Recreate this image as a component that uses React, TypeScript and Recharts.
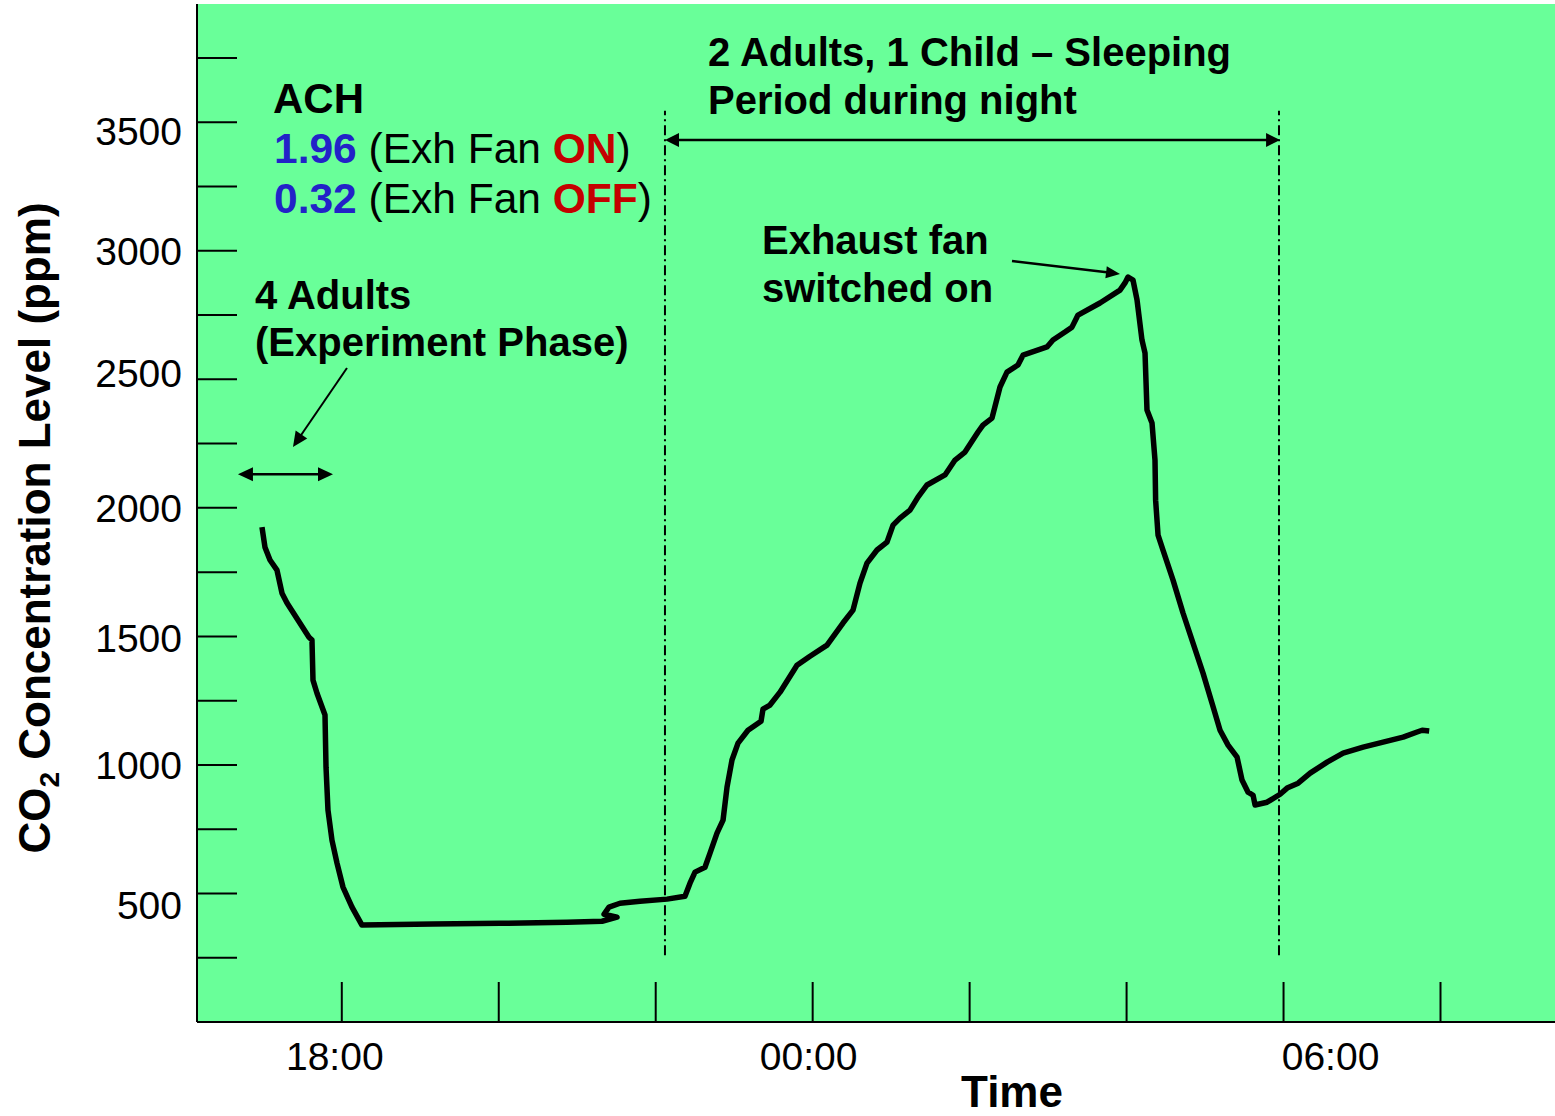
import { LineChart, Line, XAxis, YAxis, CartesianGrid, ReferenceLine } from 'recharts'

// time in hours (24 = midnight), CO2 in ppm
const hours = [
  16.983, 17.021, 17.085, 17.174, 17.238, 17.302, 17.582, 17.62, 17.633, 17.684,
  17.786, 17.799, 17.824, 17.875, 17.939, 18.015, 18.13, 18.257, 19.162, 20.016,
  20.87, 21.316, 21.507, 21.341, 21.405, 21.545, 21.8, 22.144, 22.373, 22.437,
  22.501, 22.628, 22.692, 22.781, 22.858, 22.909, 22.972, 23.049, 23.176, 23.342,
  23.367, 23.456, 23.584, 23.8, 23.966, 24.183, 24.386, 24.514, 24.603, 24.692,
  24.82, 24.947, 25.024, 25.113, 25.24, 25.342, 25.457, 25.686, 25.814, 25.941,
  26.107, 26.17, 26.285, 26.387, 26.476, 26.616, 26.68, 26.986, 27.062, 27.215,
  27.304, 27.381, 27.661, 27.916, 27.98, 28.018, 28.082, 28.133, 28.196, 28.235,
  28.26, 28.324, 28.362, 28.37, 28.401, 28.464, 28.592, 28.719, 28.974, 29.089,
  29.191, 29.293, 29.408, 29.471, 29.548, 29.612, 29.637, 29.79, 29.956, 30.045,
  30.186, 30.339, 30.555, 30.759, 31.014, 31.269, 31.524, 31.702, 31.766, 31.856,
]
const co2 = [
  1925, 1847, 1797, 1758, 1668, 1630, 1497, 1486, 1330, 1279,
  1194, 991, 824, 707, 618, 525, 447, 377, 381, 384,
  388, 392, 408, 419, 447, 462, 470, 478, 489, 540,
  583, 602, 657, 735, 785, 914, 1019, 1085, 1135, 1170,
  1217, 1233, 1283, 1388, 1423, 1466, 1552, 1602, 1707, 1785,
  1836, 1867, 1933, 1960, 1991, 2042, 2089, 2128, 2186, 2217,
  2295, 2322, 2349, 2470, 2528, 2556, 2594, 2626, 2653, 2684,
  2703, 2750, 2797, 2847, 2875, 2898, 2886, 2809, 2653, 2602,
  2381, 2330, 2186, 2030, 1894, 1836, 1719, 1591, 1357, 1240,
  1135, 1077, 1030, 941, 894, 882, 844, 855, 886, 910,
  929, 968, 1011, 1046, 1069, 1089, 1108, 1128, 1135, 1132,
]

const xTicks = [18, 20, 22, 24, 26, 28, 30, 32]
const xTickLabels = ['18:00', '', '', '00:00', '', '', '06:00', '']
const yTicks = [250, 500, 750, 1000, 1250, 1500, 1750, 2000, 2250, 2500, 2750, 3000, 3250, 3500, 3750]
const yTickLabels = ['', '500', '', '1000', '', '1500', '', '2000', '', '2500', '', '3000', '', '3500', '']

// sleeping period bounds (hours) and annotation arrows
const sleepStart = 22.118
const sleepEnd = 29.942
const experimentSpan = [16.677, 17.888]

const data = hours.map((h, i) => ({ time: h, co2: co2[i] }))

const FONT = "'Liberation Sans', Arial, Helvetica, sans-serif"
const GREEN = '#69FF99'
const BLUE = '#2222C8'
const RED = '#C40000'

// small manual nudges of the tick labels, as placed in the original slide
const xLabelNudge: Record<string, number> = { '18:00': -7, '00:00': -4, '06:00': 47 }
const yLabelNudge: Record<string, number> = { '3500': 9, '2500': -6, '1500': 2, '500': 12 }

const XTick = (props: any) => {
  const { x, y, payload } = props
  const label = xTickLabels[xTicks.indexOf(payload.value)] || ''
  return (
    <g>
      <line x1={x} x2={x} y1={y - 40} y2={y} stroke="#000" strokeWidth={2} />
      {label && (
        <text x={x + (xLabelNudge[label] || 0)} y={y + 48} textAnchor="middle" fontSize={39} fill="#000" fontFamily={FONT}>
          {label}
        </text>
      )}
    </g>
  )
}

const YTick = (props: any) => {
  const { x, y, payload } = props
  const label = yTickLabels[yTicks.indexOf(payload.value)] || ''
  return (
    <g>
      <line x1={x + 15} x2={x + 55} y1={y} y2={y} stroke="#000" strokeWidth={2} />
      {label && (
        <text x={x} y={y + 14 + (yLabelNudge[label] || 0)} textAnchor="end" fontSize={39} fill="#000" fontFamily={FONT}>
          {label}
        </text>
      )}
    </g>
  )
}

const head = (x: number, y: number, ang: number, len: number, half: number) => {
  const bx = x - len * Math.cos(ang)
  const by = y - len * Math.sin(ang)
  const px = -Math.sin(ang) * half
  const py = Math.cos(ang) * half
  return `${x},${y} ${bx + px},${by + py} ${bx - px},${by - py}`
}

const arrow = (both: boolean, len: number, half: number, width: number) => (props: any) => {
  const { x1, y1, x2, y2 } = props
  const ang = Math.atan2(y2 - y1, x2 - x1)
  const sx = both ? x1 + Math.cos(ang) * len * 0.8 : x1
  const sy = both ? y1 + Math.sin(ang) * len * 0.8 : y1
  const ex = x2 - Math.cos(ang) * len * 0.8
  const ey = y2 - Math.sin(ang) * len * 0.8
  return (
    <g>
      <line x1={sx} y1={sy} x2={ex} y2={ey} stroke="#000" strokeWidth={width} />
      <polygon points={head(x2, y2, ang, len, half)} fill="#000" />
      {both && <polygon points={head(x1, y1, ang + Math.PI, len, half)} fill="#000" />}
    </g>
  )
}

export default function App() {
  return (
    <div style={{ position: 'absolute', left: 0, top: 0, width: 1555, height: 1116, background: '#fff', fontFamily: FONT }}>
      <LineChart width={1555} height={1116} data={data} margin={{ top: 4, right: 0, bottom: 0, left: 0 }}>
        <CartesianGrid fill={GREEN} stroke="none" horizontal={false} vertical={false} />
        <XAxis
          dataKey="time"
          type="number"
          domain={[16.155, 33.459]}
          allowDataOverflow
          ticks={xTicks}
          interval={0}
          height={94}
          tickSize={0}
          tickMargin={0}
          tick={<XTick />}
          axisLine={{ stroke: '#000', strokeWidth: 2 }}
        />
        <YAxis
          type="number"
          domain={[0, 3960]}
          allowDataOverflow
          ticks={yTicks}
          interval={0}
          width={197}
          tickSize={0}
          tickMargin={15}
          tick={<YTick />}
          axisLine={{ stroke: '#000', strokeWidth: 2 }}
        />
        <ReferenceLine
          segment={[{ x: sleepStart, y: 260 }, { x: sleepStart, y: 3545 }]}
          stroke="#000"
          strokeWidth={2}
          strokeDasharray="10 4 2 4"
        />
        <ReferenceLine
          segment={[{ x: sleepEnd, y: 260 }, { x: sleepEnd, y: 3545 }]}
          stroke="#000"
          strokeWidth={2}
          strokeDasharray="10 4 2 4"
        />
        <ReferenceLine
          segment={[{ x: sleepStart, y: 3431 }, { x: sleepEnd + 0.014, y: 3431 }]}
          shape={arrow(true, 14, 7, 2.5)}
        />
        <ReferenceLine
          segment={[{ x: experimentSpan[0], y: 2131 }, { x: experimentSpan[1], y: 2131 }]}
          shape={arrow(true, 15, 7, 2.5)}
        />
        <ReferenceLine
          segment={[{ x: 18.066, y: 2544 }, { x: 17.378, y: 2237 }]}
          shape={arrow(false, 15, 7, 2)}
        />
        <ReferenceLine
          segment={[{ x: 26.54, y: 2960 }, { x: 27.916, y: 2910 }]}
          shape={arrow(false, 14, 6, 2.5)}
        />
        <Line
          dataKey="co2"
          type="linear"
          stroke="#000"
          strokeWidth={5.5}
          strokeLinejoin="round"
          dot={false}
          isAnimationActive={false}
        />
      </LineChart>

      <svg width={1555} height={1116} style={{ position: 'absolute', left: 0, top: 0, pointerEvents: 'none' }} fontFamily={FONT}>
        <text x={273} y={113} fontSize={42} fontWeight="bold" fill="#000">ACH</text>
        <text x={274} y={163} fontSize={42.5} fill="#000">
          <tspan fill={BLUE} fontWeight="bold">1.96</tspan> (Exh Fan <tspan fill={RED} fontWeight="bold">ON</tspan>)
        </text>
        <text x={274} y={213} fontSize={42.5} fill="#000">
          <tspan fill={BLUE} fontWeight="bold">0.32</tspan> (Exh Fan <tspan fill={RED} fontWeight="bold">OFF</tspan>)
        </text>

        <text x={255} y={309} fontSize={40} fontWeight="bold" fill="#000">4 Adults</text>
        <text x={255} y={356} fontSize={40} fontWeight="bold" fill="#000">(Experiment Phase)</text>

        <text x={708} y={66} fontSize={40} fontWeight="bold" fill="#000">2 Adults, 1 Child – Sleeping</text>
        <text x={708} y={114} fontSize={40} fontWeight="bold" fill="#000">Period during night</text>

        <text x={762} y={254} fontSize={40} fontWeight="bold" fill="#000">Exhaust fan</text>
        <text x={762} y={302} fontSize={40} fontWeight="bold" fill="#000">switched on</text>

        <text x={1012} y={1107} fontSize={44} fontWeight="bold" textAnchor="middle" fill="#000">Time</text>

        <text transform="translate(50,528) rotate(-90)" fontSize={44} fontWeight="bold" textAnchor="middle" fill="#000">
          CO<tspan fontSize={28} dy={9}>2</tspan><tspan dy={-9}> Concentration Level (ppm)</tspan>
        </text>
      </svg>
    </div>
  )
}
